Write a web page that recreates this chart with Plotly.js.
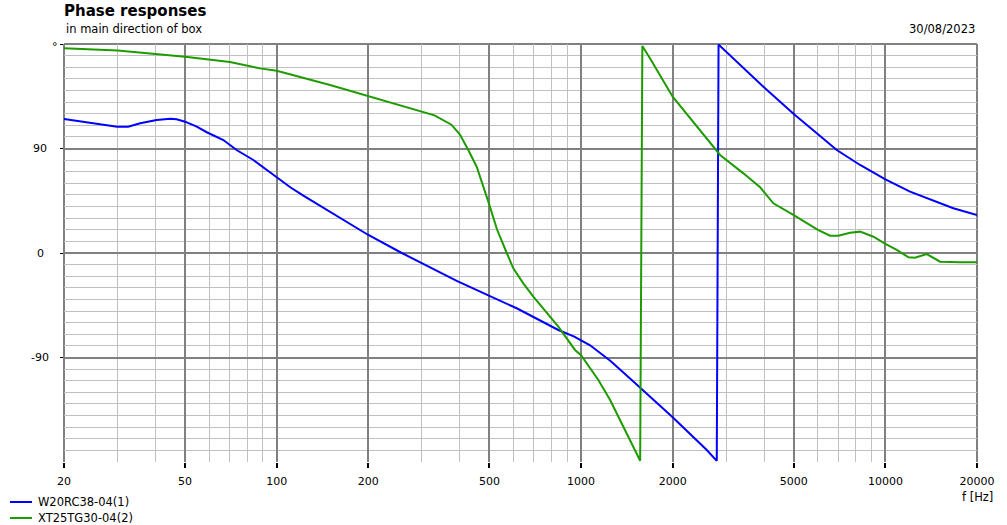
<!DOCTYPE html>
<html>
<head>
<meta charset="utf-8">
<script src="https://cdn.plot.ly/plotly-3.0.1.min.js"></script>
<style>html,body{margin:0;padding:0;background:#fff;}#chart{width:1007px;height:525px;}</style>
</head>
<body>
<div id="chart"></div>
<script>
// ---- data ----
const seriesNames = ['W20RC38-04(1)', 'XT25TG30-04(2)'];
const seriesColors = ['#0000ff', '#1e9b00'];

const blueFreq = [20, 24.3, 29.9, 32.5, 35.6, 40.3, 44.6, 46.9, 50, 54.6, 58.9, 66.8, 73.8, 83.8, 97.5, 110.8, 122.3, 149.7, 200, 257.6, 335.6, 390.4, 500, 614.6, 842, 950, 1071, 1250, 1467, 2000, 2589, 2792, 2830, 3330, 3973, 5000, 6100, 6923, 8258, 10000, 12050, 14760, 16720, 20000];
const bluePhase = [115.4, 112.5, 108.8, 108.8, 111.7, 114.5, 115.7, 115.1, 113.1, 108.8, 104, 97.3, 88.7, 80.1, 67.2, 56.6, 49.5, 35.6, 15.5, 0, -15.5, -24, -37, -47.6, -66.3, -72, -79.5, -93, -109.4, -141.5, -169.7, -179, 179.5, 162, 143.2, 119.7, 100.4, 88.7, 75.8, 63.5, 52.8, 44.2, 38.5, 32.7];

const greenFreq = [20, 30, 50, 58.9, 70.2, 88, 100, 149.7, 200, 254, 300, 330, 375, 400, 426, 454, 496, 530, 570, 599, 646, 697, 842, 955, 1000, 1140, 1246, 1343, 1449, 1564, 1590, 1686, 2000, 2462, 2727, 2863, 3415, 3876, 4284, 5000, 6000, 6579, 7000, 7656, 8258, 9132, 10000, 10900, 11910, 12500, 13680, 15130, 17600, 20000];
const greenPhase = [176.3, 174.4, 169, 166.8, 164.5, 159, 157, 144.7, 135.2, 126.8, 121.7, 118.5, 110.5, 102, 88.7, 74.3, 44, 20, 0, -13.2, -26.1, -37.6, -63.5, -83.5, -88, -109.4, -126.6, -143.8, -161, -178.9, 178.3, 167.6, 134.6, 105.9, 91.5, 84.4, 68.6, 56.6, 42.8, 32.7, 20, 14.9, 14.9, 17.5, 18.4, 14, 7.8, 2.6, -3.7, -4, -0.9, -7.5, -8, -8];

const xMajorVals = [20, 50, 100, 200, 500, 1000, 2000, 5000, 10000, 20000];
const xMajorLabels = ['20', '50', '100', '200', '500', '1000', '2000', '5000', '10000', '20000'];
const xMinorVals = [30, 40, 60, 70, 80, 90, 300, 400, 600, 700, 800, 900, 3000, 4000, 6000, 7000, 8000, 9000];
const yMajorVals = [-90, 0, 90, 180];
const yMajorLabels = ['-90', '0', '90', '°'];
const yMinorVals = [-170,-160,-150,-140,-130,-120,-110,-100,-80,-70,-60,-50,-40,-30,-20,-10,10,20,30,40,50,60,70,80,100,110,120,130,140,150,160,170];

const titleText = 'Phase responses';
const subtitleText = 'in main direction of box';
const dateText = '30/08/2023';
const xUnitText = 'f [Hz]';

// ---- chart ----
const FONT = 'DejaVu Sans, Verdana, sans-serif';
const plotL = 64, plotR = 977, plotT = 44, plotB = 462;
const pw = plotR - plotL, ph = plotB - plotT;
const px2paperX = p => (p - plotL) / pw;
const px2paperY = p => (plotB - p) / ph;

const traces = [
  {x: blueFreq, y: bluePhase, name: seriesNames[0], mode: 'lines', line: {color: seriesColors[0], width: 2}, showlegend: false, hoverinfo: 'skip'},
  {x: greenFreq, y: greenPhase, name: seriesNames[1], mode: 'lines', line: {color: seriesColors[1], width: 2}, showlegend: false, hoverinfo: 'skip'}
];

const annotations = [
  {text: subtitleText, xref: 'paper', yref: 'paper', x: 0, y: px2paperY(29), xanchor: 'left', yanchor: 'middle', showarrow: false, font: {family: FONT, size: 11.5, color: '#000'}},
  {text: dateText, xref: 'paper', yref: 'paper', x: 1, y: px2paperY(29), xanchor: 'right', yanchor: 'middle', showarrow: false, font: {family: FONT, size: 11.5, color: '#000'}},
  {text: xUnitText, xref: 'paper', yref: 'paper', x: 1, y: px2paperY(497), xanchor: 'center', yanchor: 'middle', showarrow: false, font: {family: FONT, size: 11.5, color: '#000'}}
];
yMajorVals.forEach((v, i) => {
  const isDeg = yMajorLabels[i] === '°';
  annotations.push({text: yMajorLabels[i], xref: 'paper', yref: 'y', x: px2paperX(isDeg ? 55 : 40), y: v, xanchor: 'center', yanchor: isDeg ? 'top' : 'middle', yshift: isDeg ? 6 : 0, showarrow: false, font: {family: FONT, size: 11, color: '#000'}});
});

const shapes = [
  // plot frame: top, left, right (no bottom line)
  {type: 'line', xref: 'paper', yref: 'paper', x0: 0, x1: 1, y0: 1, y1: 1, line: {color: '#808080', width: 2}, layer: 'below'},
  {type: 'line', xref: 'paper', yref: 'paper', x0: 0, x1: 0, y0: 0, y1: 1, line: {color: '#808080', width: 2}, layer: 'below'},
  {type: 'line', xref: 'paper', yref: 'paper', x0: 1, x1: 1, y0: 0, y1: 1, line: {color: '#808080', width: 2}, layer: 'below'}
];
seriesNames.forEach((nm, i) => {
  const yy = 502 + i * 16;
  shapes.push({type: 'line', xref: 'paper', yref: 'paper', x0: px2paperX(10), x1: px2paperX(32), y0: px2paperY(yy), y1: px2paperY(yy), line: {color: seriesColors[i], width: 2}});
  annotations.push({text: nm, xref: 'paper', yref: 'paper', x: px2paperX(36), y: px2paperY(yy), xanchor: 'left', yanchor: 'middle', showarrow: false, font: {family: FONT, size: 11.5, color: '#000'}});
});

const layout = {
  width: 1007, height: 525,
  margin: {l: plotL, r: 1007 - plotR, t: plotT, b: 525 - plotB, pad: 0},
  paper_bgcolor: '#fff', plot_bgcolor: '#fff',
  font: {family: FONT, size: 11, color: '#000'},
  title: {text: '<b>' + titleText + '</b>', xref: 'container', yref: 'container', x: 64 / 1007, xanchor: 'left', y: 1 - 11 / 525, yanchor: 'middle', font: {family: FONT, size: 15, color: '#000'}},
  xaxis: {
    type: 'log', range: [Math.log10(20), Math.log10(20000)], autorange: false,
    tickmode: 'array', tickvals: xMajorVals, ticktext: xMajorLabels,
    showgrid: true, gridcolor: '#808080', gridwidth: 2,
    ticks: 'outside', ticklen: 5, tickwidth: 2, tickcolor: '#000',
    ticklabelstandoff: 4,
    tickfont: {family: FONT, size: 11, color: '#000'},
    zeroline: false, showline: false,
    minor: {tickmode: 'array', tickvals: xMinorVals, showgrid: true, gridcolor: '#c0c0c0', gridwidth: 1, ticks: ''}
  },
  yaxis: {
    range: [-180, 180], autorange: false,
    tickmode: 'array', tickvals: yMajorVals, showticklabels: false,
    showgrid: true, gridcolor: '#808080', gridwidth: 2,
    ticks: 'outside', ticklen: 3, tickwidth: 1, tickcolor: '#000',
    zeroline: false, showline: false,
    minor: {tickmode: 'array', tickvals: yMinorVals, showgrid: true, gridcolor: '#c0c0c0', gridwidth: 1, ticks: ''}
  },
  showlegend: false,
  annotations: annotations,
  shapes: shapes
};

Plotly.newPlot('chart', traces, layout, {displayModeBar: false, staticPlot: true});
</script>
</body>
</html>
